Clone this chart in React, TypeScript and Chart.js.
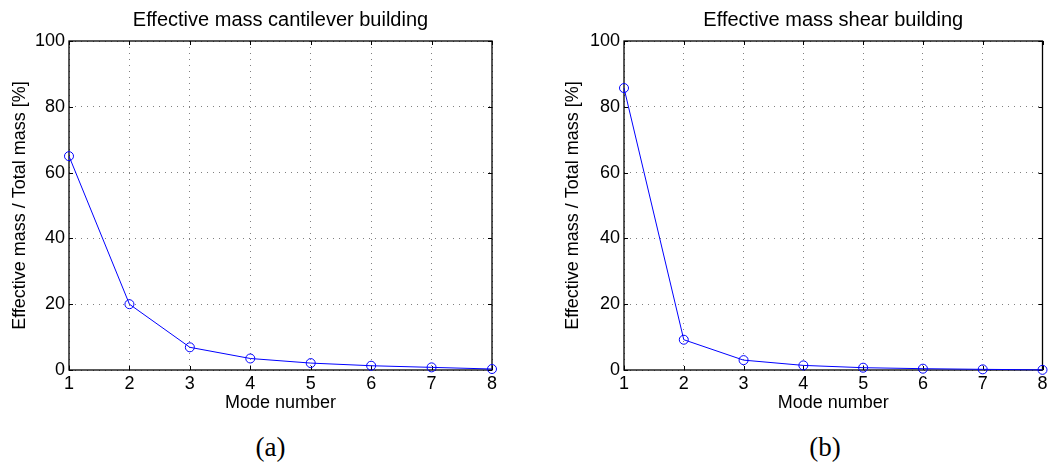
import { useEffect, useRef } from 'react';
import { Chart, registerables } from 'chart.js';

Chart.register(...registerables);

// Mode numbers on the horizontal axis
const modes = [1, 2, 3, 4, 5, 6, 7, 8];
// Effective modal mass as a share of total mass [%]
const cantileverMass = [65.0, 20.0, 6.9, 3.5, 2.1, 1.3, 0.8, 0.3];
const shearMass = [85.7, 9.2, 3.0, 1.4, 0.7, 0.4, 0.2, 0.05];

const yMin = 0;
const yMax = 100;
const yStep = 20;

const SANS = '"Liberation Sans", Arial, Helvetica, sans-serif';
const SERIF = '"Liberation Serif", "Times New Roman", serif';
const TICK_LEN = 4;

// Draws the closed axes box with inward tick marks, plus the panel title.
const framePlugin = {
  id: 'frame',
  beforeDatasetsDraw(chart: any) {
    const { ctx, chartArea, scales } = chart;
    const { left, right, top, bottom } = chartArea;
    const xs = scales.x;
    const ys = scales.y;
    ctx.save();
    ctx.strokeStyle = '#000';
    ctx.lineWidth = 1;
    ctx.beginPath();
    xs.ticks.forEach((t: any) => {
      const px = Math.round(xs.getPixelForValue(t.value)) + 0.5;
      ctx.moveTo(px, bottom);
      ctx.lineTo(px, bottom - TICK_LEN);
      ctx.moveTo(px, top);
      ctx.lineTo(px, top + TICK_LEN);
    });
    ys.ticks.forEach((t: any) => {
      const py = Math.round(ys.getPixelForValue(t.value)) + 0.5;
      ctx.moveTo(left, py);
      ctx.lineTo(left + TICK_LEN, py);
      ctx.moveTo(right, py);
      ctx.lineTo(right - TICK_LEN, py);
    });
    ctx.stroke();
    ctx.lineWidth = 1.3;
    ctx.strokeRect(left, top, right - left, bottom - top);
    ctx.restore();
  },
  afterDraw(chart: any, _args: any, opts: any) {
    if (!opts || !opts.text) return;
    const { ctx, chartArea } = chart;
    ctx.save();
    ctx.fillStyle = '#000';
    ctx.font = `20px ${SANS}`;
    ctx.textAlign = 'center';
    ctx.textBaseline = 'alphabetic';
    ctx.fillText(opts.text, (chartArea.left + chartArea.right) / 2, 26);
    ctx.restore();
  },
};

type PanelProps = {
  title: string;
  values: number[];
  canvasLeft: number;
  canvasWidth: number;
  yAxisWidth: number;
  yTitlePad: number;
  padRight: number;
};

function Panel({ title, values, canvasLeft, canvasWidth, yAxisWidth, yTitlePad, padRight }: PanelProps) {
  const ref = useRef<HTMLCanvasElement | null>(null);

  useEffect(() => {
    if (!ref.current) return;
    const points = modes.map((m, i) => ({ x: m, y: values[i] }));
    const chart = new Chart(ref.current, {
      type: 'line',
      data: {
        datasets: [
          {
            data: points,
            borderColor: '#0000ff',
            borderWidth: 1,
            backgroundColor: 'rgba(0,0,0,0)',
            pointStyle: 'circle',
            pointRadius: 4.5,
            pointBorderWidth: 1,
            pointBorderColor: '#0000ff',
            pointBackgroundColor: 'rgba(0,0,0,0)',
            tension: 0,
            clip: false as any,
          },
        ],
      },
      options: {
        responsive: false,
        animation: false,
        devicePixelRatio: 1,
        layout: { padding: { left: 0, right: padRight, top: 41, bottom: 0 } },
        plugins: {
          legend: { display: false },
          tooltip: { enabled: false },
          title: { display: false },
          frame: { text: title },
        } as any,
        scales: {
          x: {
            type: 'linear',
            min: modes[0],
            max: modes[modes.length - 1],
            ticks: {
              stepSize: 1,
              autoSkip: false,
              maxRotation: 0,
              padding: 3,
              color: '#000',
              font: { size: 18, family: SANS },
            },
            grid: { color: '#808080', lineWidth: 1, drawTicks: false },
            border: { display: false, dash: [1, 5] },
            title: {
              display: true,
              text: 'Mode number',
              color: '#000',
              font: { size: 18, family: SANS },
              padding: { top: 0, bottom: 6 },
            },
            afterFit(scale: any) {
              scale.height = 50;
              scale.paddingLeft = 0;
              scale.paddingRight = 0;
            },
          },
          y: {
            type: 'linear',
            min: yMin,
            max: yMax,
            ticks: {
              stepSize: yStep,
              padding: 4,
              color: '#000',
              font: { size: 18, family: SANS },
            },
            grid: { color: '#808080', lineWidth: 1, drawTicks: false },
            border: { display: false, dash: [1, 5] },
            title: {
              display: true,
              text: 'Effective mass / Total mass [%]',
              color: '#000',
              font: { size: 18, family: SANS },
              padding: { top: yTitlePad, bottom: 0 },
            },
            afterFit(scale: any) {
              scale.width = yAxisWidth;
            },
          },
        },
      } as any,
      plugins: [framePlugin],
    });
    return () => chart.destroy();
  }, [title, values, canvasLeft, canvasWidth, yAxisWidth, yTitlePad, padRight]);

  return (
    <canvas
      ref={ref}
      width={canvasWidth}
      height={420}
      style={{ position: 'absolute', left: canvasLeft, top: 0, width: canvasWidth, height: 420 }}
    />
  );
}

function Caption({ text, center }: { text: string; center: number }) {
  return (
    <div
      style={{
        position: 'absolute',
        left: center - 50,
        top: 434,
        width: 100,
        textAlign: 'center',
        fontFamily: SERIF,
        fontSize: 27,
        lineHeight: '27px',
        color: '#000',
      }}
    >
      {text}
    </div>
  );
}

export default function App() {
  return (
    <div
      style={{
        position: 'absolute',
        left: 0,
        top: 0,
        width: 1048,
        height: 466,
        overflow: 'hidden',
        background: '#fff',
      }}
    >
      <Panel
        title="Effective mass cantilever building"
        values={cantileverMass}
        canvasLeft={0}
        canvasWidth={524}
        yAxisWidth={69}
        yTitlePad={9}
        padRight={32}
      />
      <Panel
        title="Effective mass shear building"
        values={shearMass}
        canvasLeft={554}
        canvasWidth={494}
        yAxisWidth={70}
        yTitlePad={8}
        padRight={2}
      />
      <Caption text="(a)" center={270.5} />
      <Caption text="(b)" center={825} />
    </div>
  );
}
